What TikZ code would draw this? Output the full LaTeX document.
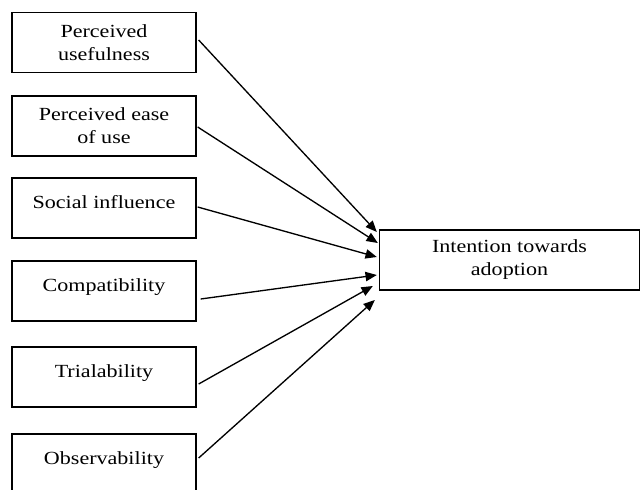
\documentclass[tikz,border=0pt]{standalone}
\usepackage{fontspec}
\setmainfont{Liberation Serif}[FakeStretch=1.19]
\usetikzlibrary{arrows.meta, calc}
\tikzset{
	factor/.style={rectangle, draw, line width=1pt, minimum width=138pt, minimum height=45pt, align=center, inner sep=0pt, font=\fontsize{13.9pt}{17.3pt}\selectfont},
	oneline/.style={text height=9pt, text depth=9pt},
	target/.style={factor, minimum width=195pt},
	line/.style={draw, line width=1pt, -{Triangle[length=8.5pt, width=7pt]}}
}

\begin{document}
\begin{tikzpicture}[x=0.75pt, y=-0.75pt]
    \useasboundingbox (0,0) rectangle (641,489);
    % Factors
    \node[factor] (pu) at (104,42.5) {Perceived\\usefulness};
    \node[factor] (peou) at (104,126) {Perceived ease\\of use};
    \node[factor, oneline] (si) at (104,208) {Social influence};
    \node[factor, oneline] (comp) at (104,291) {Compatibility};
    \node[factor, oneline] (trial) at (104,377) {Trialability};
    \node[factor, oneline] (obs) at (104,464) {Observability};
    % Outcome
    \node[target] (intent) at (509.5,260) {Intention towards\\adoption};
    % Arrows
    \draw[line] ($(pu.east)+(2,-2.5)$) -- ($(intent.west)+(-2,-28)$);
    \draw[line] ($(peou.east)+(1,1)$) -- ($(intent.west)+(-1,-17)$);
    \draw[line] ($(si.east)+(1,-1)$) -- ($(intent.west)+(-2,-3)$);
    \draw[line] ($(comp.east)+(4,8)$) -- ($(intent.west)+(-2,15)$);
    \draw[line] ($(trial.east)+(2,7)$) -- ($(intent.west)+(-6,26)$);
    \draw[line] ($(obs.east)+(2,-6)$) -- ($(intent.west)+(-4,40)$);
\end{tikzpicture}
\end{document}
